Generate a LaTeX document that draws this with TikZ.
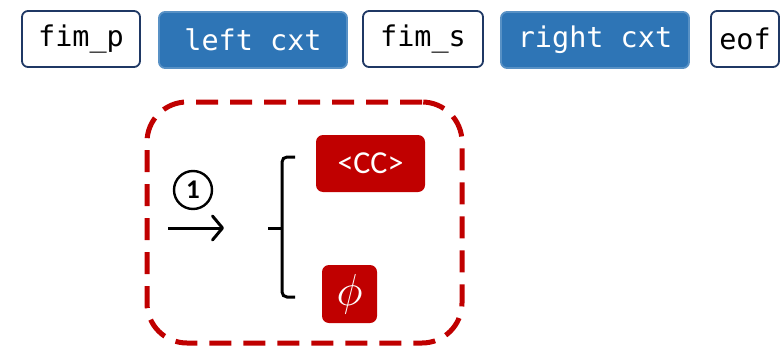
\documentclass[tikz,border=0pt]{standalone}
\usepackage{fontspec}
\setmainfont{Carlito}
\newfontfamily\codefont{DejaVu Sans Mono}
\usetikzlibrary{arrows.meta, positioning}
\definecolor{cxtblue}{HTML}{2E75B6}
\definecolor{navyline}{HTML}{1F3864}
\definecolor{maskred}{HTML}{C00000}
\tikzstyle{token} = [rectangle, rounded corners=6pt, draw=navyline, line width=1.8pt, fill=white, minimum height=56pt, inner sep=0pt, text=black, font=\codefont\fontsize{28.5}{30}\selectfont]
\tikzstyle{cxt} = [token, draw=cxtblue!80!white, fill=cxtblue, text=white]
\tikzstyle{sentinel} = [rectangle, rounded corners=7pt, fill=maskred, text=white, inner sep=0pt, font=\fontsize{32}{34}\selectfont]

\begin{document}
\begin{tikzpicture}[x=1pt, y=-1pt]
\useasboundingbox (0,0) rectangle (781,353);
% input tokens
\node (fimp) [token, minimum width=118pt] at (81,39) {fim\_p};
\node (leftcxt) [cxt, minimum width=188pt] at (253,40) {left cxt};
\node (fims) [token, minimum width=120pt] at (423,39) {fim\_s};
\node (rightcxt) [cxt, minimum width=188pt] at (595,40) {right cxt};
\node (eof) [token, minimum width=68pt] at (745,39) {eof};
% masked span
\node (group) [draw=maskred, line width=5pt, dash pattern=on 22pt off 12pt, rounded corners=40pt, minimum width=315pt, minimum height=241pt] at (304.5,222.5) {};
\node (step) [circle, draw, line width=2.4pt, minimum size=38pt, inner sep=0pt, font=\bfseries\fontsize{27}{28}\selectfont] at (193,190) {1};
\coordinate (arrowtail) at (168,228);
\coordinate (arrowtip) at (224,228);
\draw [line width=3pt, -{Straight Barb[length=10pt, width=24pt, round]}] (arrowtail) -- (arrowtip);
\draw [line width=3pt, rounded corners=5pt] (295,157) -- (282,157) -- (282,297) -- (295,297);
\draw [line width=3pt] (282,228) -- (268,228);
\node (cc) [sentinel, minimum width=109pt, minimum height=57pt] at (370.5,163.5) {<CC>};
\node (empty) [sentinel, minimum width=55pt, minimum height=58pt] at (349.5,294) {\scalebox{1.8}{$\phi$}};
\end{tikzpicture}
\end{document}
